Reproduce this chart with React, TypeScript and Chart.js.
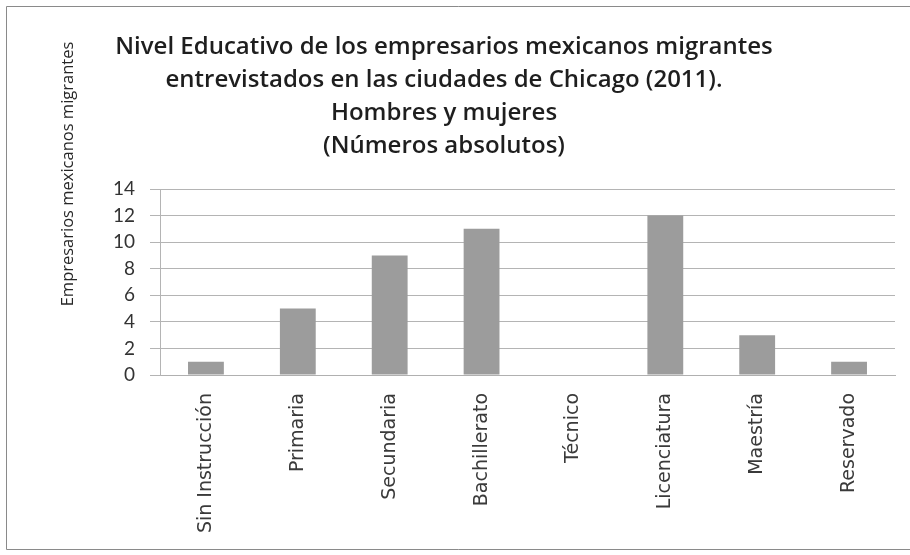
import { useEffect, useRef } from "react";
import { Chart, registerables } from "chart.js";

Chart.register(...registerables);

const categories = [
  "Sin Instrucción",
  "Primaria",
  "Secundaria",
  "Bachillerato",
  "Técnico",
  "Licenciatura",
  "Maestría",
  "Reservado",
];
const values = [1, 5, 9, 11, 0, 12, 3, 1];
const titleLines = [
  "Nivel Educativo de los empresarios mexicanos migrantes",
  "entrevistados en las ciudades de Chicago (2011).",
  "Hombres y mujeres",
  "(Números absolutos)",
];
const yAxisTitle = "Empresarios mexicanos migrantes";
const yMin = 0;
const yMax = 14;
const yStep = 2;

const decor = {
  id: "decor",
  beforeDraw(chart: any) {
    const ctx = chart.ctx;
    ctx.save();
    ctx.fillStyle = "#ffffff";
    ctx.fillRect(0, 0, chart.width, chart.height);
    ctx.strokeStyle = "#8a8a8a";
    ctx.lineWidth = 1;
    ctx.beginPath();
    ctx.moveTo(chart.width, 6.5);
    ctx.lineTo(6.5, 6.5);
    ctx.lineTo(6.5, 549.5);
    ctx.lineTo(chart.width, 549.5);
    ctx.stroke();
    ctx.restore();
  },
  afterDraw(chart: any) {
    const ctx = chart.ctx;
    ctx.save();
    ctx.fillStyle = "#1e1e1e";
    ctx.textAlign = "center";
    ctx.textBaseline = "middle";
    ctx.font = "600 24px 'Open Sans'";
    titleLines.forEach((t, i) => {
      ctx.fillText(t, 444, 47 + i * 33);
    });
    ctx.translate(68, 174);
    ctx.rotate(-Math.PI / 2);
    ctx.font = "16.5px 'Open Sans'";
    ctx.fillStyle = "#262626";
    ctx.fillText(yAxisTitle, 0, 0);
    ctx.restore();
  },
};

export default function App() {
  const ref = useRef<HTMLCanvasElement | null>(null);
  useEffect(() => {
    if (!ref.current) return;
    const chart = new Chart(ref.current, {
      type: "bar",
      data: {
        labels: categories,
        datasets: [
          {
            data: values,
            backgroundColor: "#9c9c9c",
            borderWidth: 0,
            barPercentage: 0.39,
            categoryPercentage: 1,
          },
        ],
      },
      options: {
        responsive: false,
        animation: false,
        layout: { padding: { top: 189, right: 15, left: 0, bottom: 0 } },
        plugins: {
          legend: { display: false },
          title: { display: false },
          tooltip: { enabled: false },
        },
        scales: {
          x: {
            afterFit: (s: any) => {
              s.height = 180;
            },
            grid: { display: false, drawTicks: false },
            border: { display: true, color: "#b0b0b0" },
            ticks: {
              minRotation: 90,
              maxRotation: 90,
              autoSkip: false,
              padding: 18,
              color: "#3a3a3a",
              font: { family: "'DejaVu Sans', sans-serif", size: 19 },
            },
          },
          y: {
            min: yMin,
            max: yMax,
            afterFit: (s: any) => {
              s.width = 160;
            },
            grid: { color: "#b4b4b4", tickLength: 10, drawTicks: true },
            border: { display: true, color: "#b4b4b4" },
            ticks: {
              stepSize: yStep,
              padding: 15,
              color: "#333333",
              font: { family: "Lato", size: 19 },
            },
          },
        },
      },
      plugins: [decor],
    });
    return () => chart.destroy();
  }, []);
  return (
    <div style={{ position: "fixed", left: 0, top: 0, width: 910, height: 555, background: "#fff" }}>
      <canvas ref={ref} width={910} height={555} style={{ display: "block" }} />
    </div>
  );
}
